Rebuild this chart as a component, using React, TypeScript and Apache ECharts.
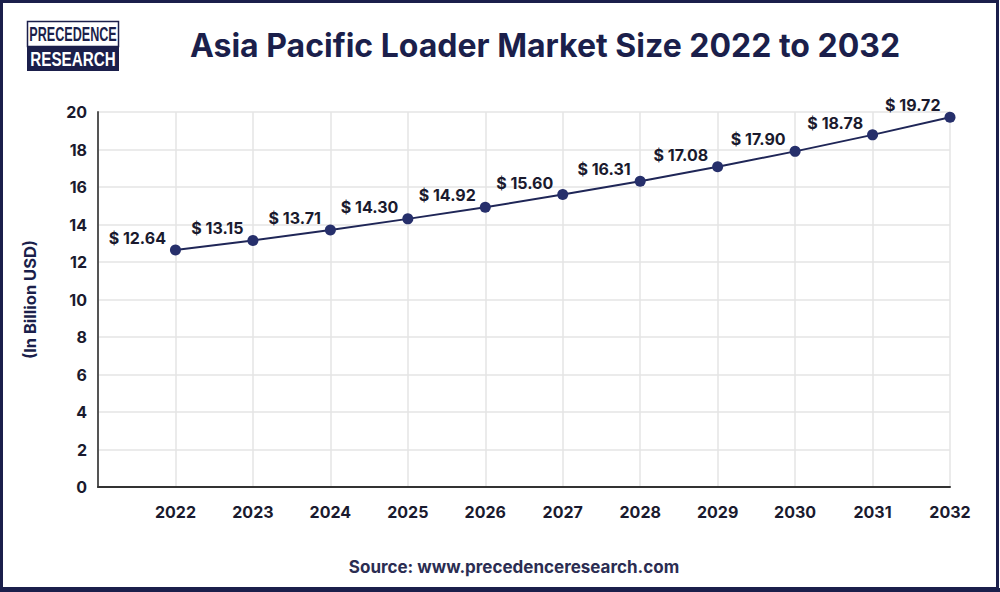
import React, { useEffect, useRef } from "react";
import * as echarts from "echarts";

const years = [2022, 2023, 2024, 2025, 2026, 2027, 2028, 2029, 2030, 2031, 2032];
const values = [12.64, 13.15, 13.71, 14.3, 14.92, 15.6, 16.31, 17.08, 17.9, 18.78, 19.72];
const yTicks = [0, 2, 4, 6, 8, 10, 12, 14, 16, 18, 20];

const NAVY = "#1b1f4b";
const FONT = "Inter, 'Open Sans', sans-serif";
const LOGO_FONT = "'Liberation Sans', Arial, sans-serif";

export default function App() {
  const ref = useRef<HTMLDivElement>(null);
  useEffect(() => {
    if (!ref.current) return;
    const chart = echarts.init(ref.current, undefined, { renderer: "svg" });
    const data = years.map((y, i) => [y, values[i]]);
    chart.setOption({
      animation: false,
      backgroundColor: "#ffffff",
      textStyle: { fontFamily: FONT },
      grid: { left: 98, right: 50, top: 112, bottom: 105 },
      xAxis: {
        type: "value",
        min: 2021,
        max: 2032,
        interval: 1,
        axisLine: { show: true, lineStyle: { color: "#333333", width: 2 } },
        axisTick: { show: false },
        splitLine: { show: true, lineStyle: { color: "#e4e4e4", width: 1.5 } },
        axisLabel: {
          margin: 17,
          fontSize: 16,
          fontWeight: "bold",
          color: "#1a1a2e",
          fontFamily: FONT,
          formatter: (v: number) => (v === 2021 ? "" : String(v)),
        },
      },
      yAxis: {
        type: "value",
        min: yTicks[0],
        max: yTicks[yTicks.length - 1],
        interval: 2,
        name: "(In Billion USD)",
        nameLocation: "middle",
        nameGap: 60,
        nameRotate: 90,
        nameTextStyle: { fontSize: 16.5, fontWeight: "bold", color: NAVY, fontFamily: FONT },
        axisLine: { show: true, lineStyle: { color: "#555555", width: 2 } },
        axisTick: { show: false },
        splitLine: { show: true, lineStyle: { color: "#e4e4e4", width: 1.5 } },
        axisLabel: {
          margin: 11,
          fontSize: 16,
          fontWeight: "bold",
          color: "#1a1a2e",
          fontFamily: FONT,
        },
      },
      series: [
        {
          type: "line",
          data,
          symbol: "circle",
          symbolSize: 11,
          lineStyle: { color: "#1f2657", width: 2 },
          itemStyle: { color: "#262f6b" },
          label: {
            show: true,
            position: "left",
            distance: 4,
            offset: [0, -12],
            fontSize: 16,
            fontWeight: "bold",
            color: "#1a1a2e",
            fontFamily: FONT,
            formatter: (p: any) => "$ " + p.value[1].toFixed(2),
          },
        },
      ],
      graphic: [
        {
          type: "rect",
          shape: { x: 1.5, y: 1.5, width: 996, height: 587 },
          style: { fill: "none", stroke: NAVY, lineWidth: 3 },
          silent: true,
        },
        {
          type: "rect",
          shape: { x: 0, y: 588, width: 1000, height: 4 },
          style: { fill: NAVY },
          silent: true,
        },
        {
          type: "rect",
          shape: { x: 27.5, y: 21.5, width: 91, height: 25 },
          style: { fill: "#ffffff", stroke: NAVY, lineWidth: 1.5 },
        },
        {
          type: "rect",
          shape: { x: 27, y: 46, width: 92, height: 25 },
          style: { fill: NAVY },
        },
        {
          type: "text",
          x: 73,
          y: 34.5,
          scaleX: 0.63,
          style: {
            text: "PRECEDENCE",
            fontSize: 20,
            fontWeight: "bold",
            fontFamily: LOGO_FONT,
            fill: NAVY,
            textAlign: "center",
            textVerticalAlign: "middle",
          },
        },
        {
          type: "text",
          x: 73,
          y: 59.5,
          scaleX: 0.76,
          style: {
            text: "RESEARCH",
            fontSize: 20,
            fontWeight: "bold",
            fontFamily: LOGO_FONT,
            fill: "#ffffff",
            textAlign: "center",
            textVerticalAlign: "middle",
          },
        },
        {
          type: "text",
          x: 545,
          y: 45,
          style: {
            text: "Asia Pacific Loader Market Size 2022 to 2032",
            fontSize: 32,
            fontWeight: "bold",
            fontFamily: FONT,
            fill: NAVY,
            textAlign: "center",
            textVerticalAlign: "middle",
          },
        },
        {
          type: "text",
          x: 514,
          y: 567,
          style: {
            text: "Source: www.precedenceresearch.com",
            fontSize: 17,
            fontWeight: "bold",
            fontFamily: FONT,
            fill: "#2b2d52",
            textAlign: "center",
            textVerticalAlign: "middle",
          },
        },
      ],
    });
    return () => chart.dispose();
  }, []);
  return (
    <div
      ref={ref}
      style={{ position: "fixed", left: 0, top: 0, width: 1000, height: 592 }}
    />
  );
}
